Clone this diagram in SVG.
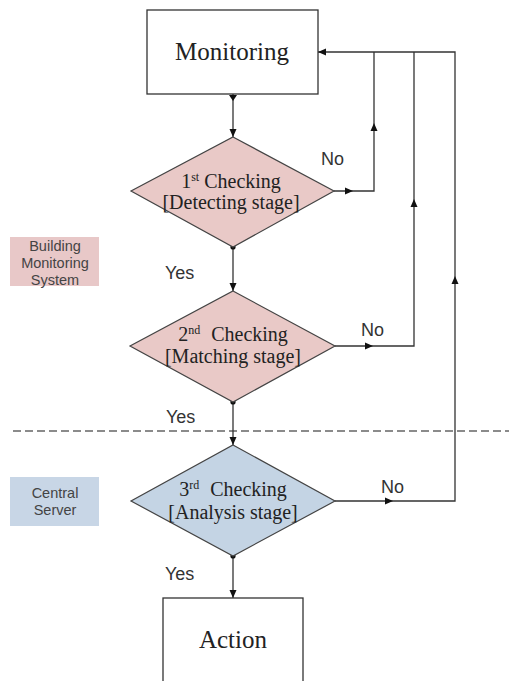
<svg xmlns="http://www.w3.org/2000/svg" xmlns:xlink="http://www.w3.org/1999/xlink" width="509" height="681" viewBox="0 0 509 681">
<style>
.box{fill:#fff;stroke:#333;stroke-width:1.3}
.pink{fill:#e9c9c7;stroke:#444;stroke-width:1.2}
.blue{fill:#c4d4e4;stroke:#444;stroke-width:1.2}
.big{font-family:"Liberation Serif",serif;font-size:25px;fill:#222;text-anchor:middle}
.chk{font-family:"Liberation Serif",serif;font-size:20px;fill:#222;text-anchor:middle}
.sup{font-size:12px}
.lbl{font-family:"Liberation Sans",Arial,sans-serif;font-size:18px;fill:#333}
.leg{font-family:"Liberation Sans",Arial,sans-serif;font-size:14.5px;fill:#444;text-anchor:middle}
.ln{fill:none;stroke:#333;stroke-width:1.3}
.dash{fill:none;stroke:#666;stroke-width:1.6;stroke-dasharray:8 4}
</style>
<defs>
<path id="ah" d="M0,0 L-8,-3.5 L-8,3.5 Z" fill="#111"/>
</defs>
<rect x="10" y="237" width="89" height="49" fill="#e8c8c8"/>
<text class="leg" x="55" y="251">Building</text>
<text class="leg" x="55" y="268">Monitoring</text>
<text class="leg" x="55" y="285">System</text>
<rect x="10" y="477" width="89" height="49" fill="#c8d6e6"/>
<text class="leg" x="55" y="498">Central</text>
<text class="leg" x="55" y="515">Server</text>
<line class="dash" x1="13" y1="431" x2="509" y2="431"/>
<g id="connectors">
<line class="ln" x1="233" y1="94" x2="233" y2="137"/>
<path d="M229,95 L237,95 L233,101 Z" fill="#111"/>
<use xlink:href="#ah" transform="translate(233,137) rotate(90)"/>
<line class="ln" x1="233" y1="247" x2="233" y2="291"/>
<circle cx="233" cy="247" r="2.6" fill="#111"/>
<use xlink:href="#ah" transform="translate(233,291) rotate(90)"/>
<line class="ln" x1="233" y1="402" x2="233" y2="445"/>
<circle cx="233" cy="402" r="2.6" fill="#111"/>
<use xlink:href="#ah" transform="translate(233,445) rotate(90)"/>
<line class="ln" x1="233" y1="556" x2="233" y2="598"/>
<circle cx="233" cy="556" r="2.6" fill="#111"/>
<use xlink:href="#ah" transform="translate(233,598) rotate(90)"/>
<polyline class="ln" points="334,191 374,191 374,52"/>
<use xlink:href="#ah" transform="translate(353,191)"/>
<use xlink:href="#ah" transform="translate(374,123) rotate(-90)"/>
<polyline class="ln" points="335,346 414,346 414,52"/>
<use xlink:href="#ah" transform="translate(373,346)"/>
<use xlink:href="#ah" transform="translate(414,199) rotate(-90)"/>
<polyline class="ln" points="335,501 455,501 455,52 318,52"/>
<use xlink:href="#ah" transform="translate(393,501)"/>
<use xlink:href="#ah" transform="translate(455,276) rotate(-90)"/>
<use xlink:href="#ah" transform="translate(318,52) rotate(180)"/>
<text class="lbl" x="321" y="165">No</text>
<text class="lbl" x="361" y="336">No</text>
<text class="lbl" x="381" y="493">No</text>
<text class="lbl" x="165" y="279">Yes</text>
<text class="lbl" x="166" y="423">Yes</text>
<text class="lbl" x="165" y="580">Yes</text>
</g>
<g id="monitoring">
<rect class="box" x="147" y="10" width="171" height="84"/>
<text class="big" x="232" y="60">Monitoring</text>
</g>
<g id="check1">
<polygon class="pink" points="233,137 334,191 233,247 131,191"/>
<text class="chk" x="231" y="188">1<tspan class="sup" dy="-7">st</tspan><tspan dy="7"> Checking</tspan></text>
<text class="chk" x="231" y="209">[Detecting stage]</text>
</g>
<g id="check2">
<polygon class="pink" points="233,291 335,346 233,402 130,346"/>
<text class="chk" x="233" y="341">2<tspan class="sup" dy="-7">nd</tspan><tspan dy="7" dx="6"> Checking</tspan></text>
<text class="chk" x="233" y="363">[Matching stage]</text>
</g>
<g id="check3">
<polygon class="blue" points="233,445 335,501 233,556 131,501"/>
<text class="chk" x="233" y="496">3<tspan class="sup" dy="-7">rd</tspan><tspan dy="7" dx="6"> Checking</tspan></text>
<text class="chk" x="233" y="519">[Analysis stage]</text>
</g>
<g id="action">
<rect class="box" x="163" y="598" width="140" height="100"/>
<text class="big" x="233" y="648">Action</text>
</g>
</svg>
